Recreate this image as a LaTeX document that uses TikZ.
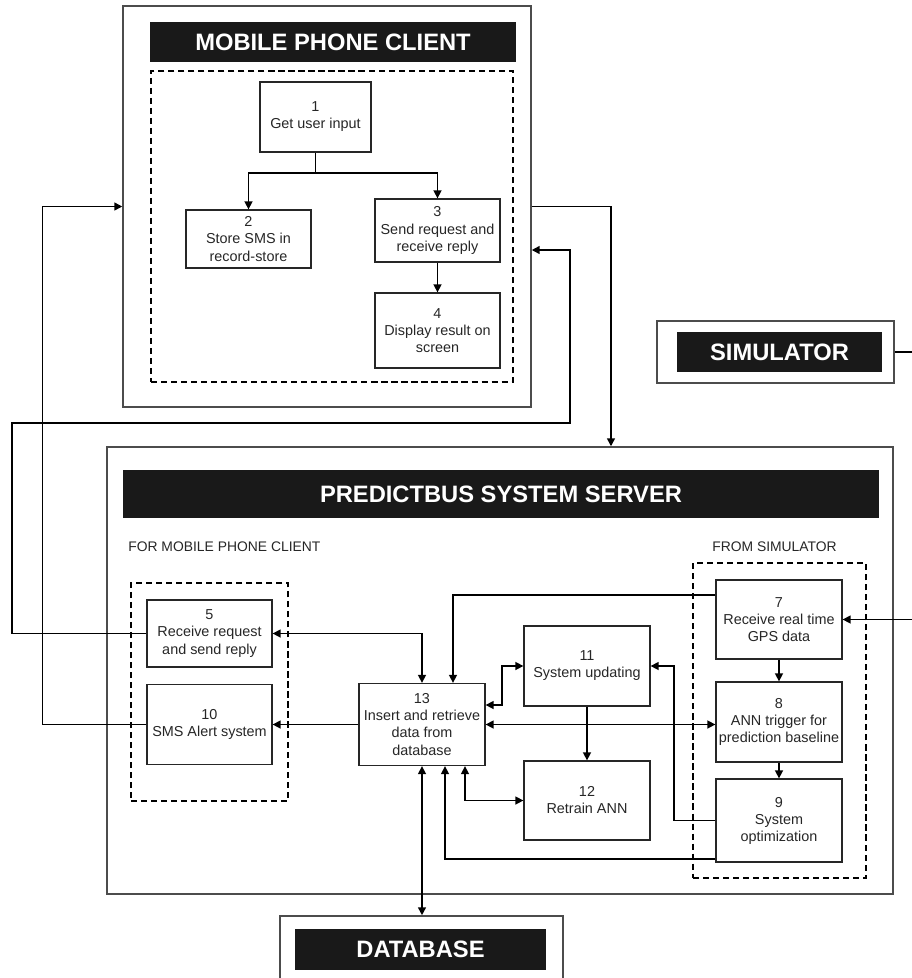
\documentclass[tikz,border=0pt]{standalone}
\usepackage{fontspec}
\setmainfont{Liberation Sans}
\usetikzlibrary{arrows.meta}
\tikzstyle{procbox} = [draw=black!85,line width=0.75pt,align=center,text=black!85,inner sep=1pt,font=\fontsize{8.2}{9.7}\selectfont]
\tikzstyle{outerbox} = [draw=black!70,line width=0.9pt]
\tikzstyle{titlebar} = [fill=black!90,text=white,font=\bfseries\fontsize{13.5}{15}\selectfont]
\tikzstyle{groupbox} = [draw,dash pattern=on 3.5pt off 2.2pt,line width=0.9pt]
\tikzstyle{grouplabel} = [inner sep=0pt,text=black!85,font=\fontsize{7.9}{9}\selectfont]
\tikzstyle{link} = [line width=0.85pt]

\begin{document}
\begin{tikzpicture}[x=0.02cm,y=-0.02cm,>={Triangle[length=4.5pt,width=4.5pt]}]
\useasboundingbox (0,0) rectangle (912,978);
\clip (0,0) rectangle (912,978);

% mobile phone client
\node[outerbox,minimum width=8.16cm,minimum height=8.02cm] (mpc) at (327,206.5) {};
\node[titlebar,minimum width=7.32cm,minimum height=0.8cm] (mpct) at (333,42) {MOBILE PHONE CLIENT};
\node[groupbox,minimum width=7.24cm,minimum height=6.22cm] (mpcg) at (332,226.5) {};
\node[procbox,minimum width=2.22cm,minimum height=1.4cm]  (b1) at (315.5,117)   {1\\Get user input};
\node[procbox,minimum width=2.5cm,minimum height=1.16cm]  (b2) at (248.5,239)   {2\\Store SMS in\\record-store};
\node[procbox,minimum width=2.5cm,minimum height=1.26cm]  (b3) at (437.5,230.5) {3\\Send request and\\receive reply};
\node[procbox,minimum width=2.5cm,minimum height=1.5cm]   (b4) at (437.5,330.5) {4\\Display result on\\screen};

% simulator
\node[outerbox,minimum width=4.74cm,minimum height=1.24cm] (sim) at (775.5,352) {};
\node[titlebar,minimum width=4.1cm,minimum height=0.8cm] (simt) at (779.5,352) {SIMULATOR};

% predictbus system server
\node[outerbox,minimum width=15.72cm,minimum height=8.94cm] (srv) at (500,670.5) {};
\node[titlebar,minimum width=15.12cm,minimum height=0.96cm] (srvt) at (501,494) {PREDICTBUS SYSTEM SERVER};
\node[grouplabel,anchor=west] (forlbl) at (128,547) {FOR MOBILE PHONE CLIENT};
\node[grouplabel] (fromlbl) at (774.5,547) {FROM SIMULATOR};
\node[groupbox,minimum width=3.14cm,minimum height=4.36cm] (clientg) at (209.5,692) {};
\node[groupbox,minimum width=3.46cm,minimum height=6.3cm] (simg) at (779.5,720.5) {};
\node[procbox,minimum width=2.5cm,minimum height=1.34cm]  (b5)  at (209.5,633.5) {5\\Receive request\\and send reply};
\node[procbox,minimum width=2.5cm,minimum height=1.6cm]   (b10) at (209.5,724.5) {10\\SMS Alert system};
\node[procbox,minimum width=2.52cm,minimum height=1.64cm] (b13) at (422,724.5)   {13\\Insert and retrieve\\data from\\database};
\node[procbox,minimum width=2.52cm,minimum height=1.6cm]  (b11) at (587,666)     {11\\System updating};
\node[procbox,minimum width=2.52cm,minimum height=1.58cm] (b12) at (587,800.5)   {12\\Retrain ANN};
\node[procbox,minimum width=2.52cm,minimum height=1.58cm] (b7)  at (779,619.5)   {7\\Receive real time\\GPS data};
\node[procbox,minimum width=2.52cm,minimum height=1.6cm]  (b8)  at (779,722)     {8\\ANN trigger for\\prediction baseline};
\node[procbox,minimum width=2.52cm,minimum height=1.66cm] (b9)  at (779,820.5)   {9\\System\\optimization};

% database
\node[outerbox,minimum width=5.66cm,minimum height=1.48cm] (db) at (421.5,953) {};
\node[titlebar,minimum width=5.02cm,minimum height=0.82cm] (dbt) at (420.5,949.5) {DATABASE};

% client flow
\coordinate (split) at (315.5,173);
\draw[link] (b1) -- (split);
\draw[link,->] (split) -| (b2);
\draw[link,->] (split) -| (b3);
\draw[link,->] (b3) -- (b4);

% client <-> server
\draw[link,->] (b10.west) -- ++(-104,0) |- (mpc.west);
\draw[link,->] (b5.west) -| (12,423) -| (570,250) -- (mpc.east |- 0,250);
\draw[link,->] (mpc.east) -| (611,0 |- srv.north);
\draw[link,->] (sim.east) -- (918,352) |- (b7.east);

% server flow
\draw[link,<->] (b5.east) -| (b13.north);
\draw[link,->] (b13.west) -- (b10.east);
\draw[link,->] (b7.west |- 0,595) -| (453,0 |- b13.north);
\draw[link,<->] (b13.east |- 0,705) -| (502,666) -- (b11.west);
\draw[link,<->] (b13.east) -- (b13.east -| b8.west);
\draw[link,->] (b11) -- (b12);
\draw[link,->] (b7) -- (b8);
\draw[link,->] (b8) -- (b9);
\draw[link,->] (b9.west) -| (674,666) -- (b11.east);
\draw[link,<->] (465,0 |- b13.south) |- (b12.west);
\draw[link,->] (b9.west |- 0,859) -| (445,0 |- b13.south);
\draw[link,<->] (b13.south) -- (b13.south |- db.north);
\end{tikzpicture}
\end{document}
